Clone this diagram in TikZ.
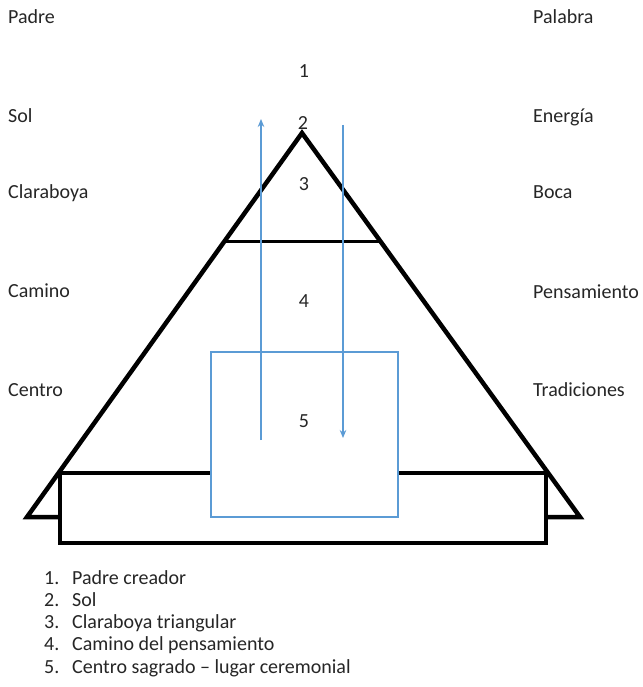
\documentclass[tikz,border=0pt]{standalone}
\usepackage{fontspec}
\setmainfont{Carlito}
\usetikzlibrary{arrows.meta}
\definecolor{lblue}{RGB}{91,155,213}
\tikzset{
  lbl/.style={anchor=base west,inner sep=0pt,font=\fontsize{20}{23}\selectfont,text=black!85},
  num/.style={anchor=base,inner sep=0pt,font=\fontsize{20}{23}\selectfont,text=black!85},
  heavy/.style={line width=4.5pt,line join=miter,draw=black},
  bluebox/.style={draw=lblue,line width=1.1pt,fill=white},
  bluearrow/.style={draw=lblue,line width=1.4pt,-{Stealth[length=8pt,width=6.5pt]}}
}
\begin{document}
\begin{tikzpicture}[x=1pt,y=-1pt]
\useasboundingbox[fill=white] (0,0) rectangle (642,687);
% triangle
\coordinate (apex) at (302,133);
\coordinate (bl) at (27,517);
\coordinate (br) at (580,517);
\draw[heavy] (apex) -- (bl) -- (br) -- cycle;
\draw[line width=3pt] (225,241) -- (380,241);
% base rectangle
\draw[line width=3.5pt,fill=white] (60,473) rectangle (546,543);
% blue center box
\node[bluebox,minimum width=187pt,minimum height=165pt,inner sep=0pt] (box) at (304.5,434.5) {};
% arrows
\coordinate (ua0) at (261,440);
\coordinate (ua1) at (261,119);
\coordinate (da0) at (343,125);
\coordinate (da1) at (343,438);
\draw[bluearrow] (ua0) -- (ua1);
\draw[bluearrow] (da0) -- (da1);
% numbers
\node[num] (n1) at (304,78) {1};
\node[num] (n2) at (303,130) {2};
\node[num] (n3) at (304,190) {3};
\node[num] (n4) at (304,307) {4};
\node[num] (n5) at (304,427) {5};
% left labels
\node[lbl] (l1) at (8,24) {Padre};
\node[lbl] (l2) at (8,123) {Sol};
\node[lbl] (l3) at (8,198) {Claraboya};
\node[lbl] (l4) at (8,297) {Camino};
\node[lbl] (l5) at (8,396) {Centro};
% right labels
\node[lbl] (r1) at (533,24) {Palabra};
\node[lbl] (r2) at (533,123) {Energía};
\node[lbl] (r3) at (533,198) {Boca};
\node[lbl] (r4) at (533,298) {Pensamiento};
\node[lbl] (r5) at (533,396) {Tradiciones};
% list
\foreach \i/\t [count=\k from 0] in {1/Padre creador,2/Sol,3/Claraboya triangular,4/Camino del pensamiento,5/Centro sagrado – lugar ceremonial}{
  \node[lbl] (li\i) at (44,584+22.3*\k) {\i.};
  \node[lbl] (lt\i) at (72,584+22.3*\k) {\t};
}
\end{tikzpicture}
\end{document}
